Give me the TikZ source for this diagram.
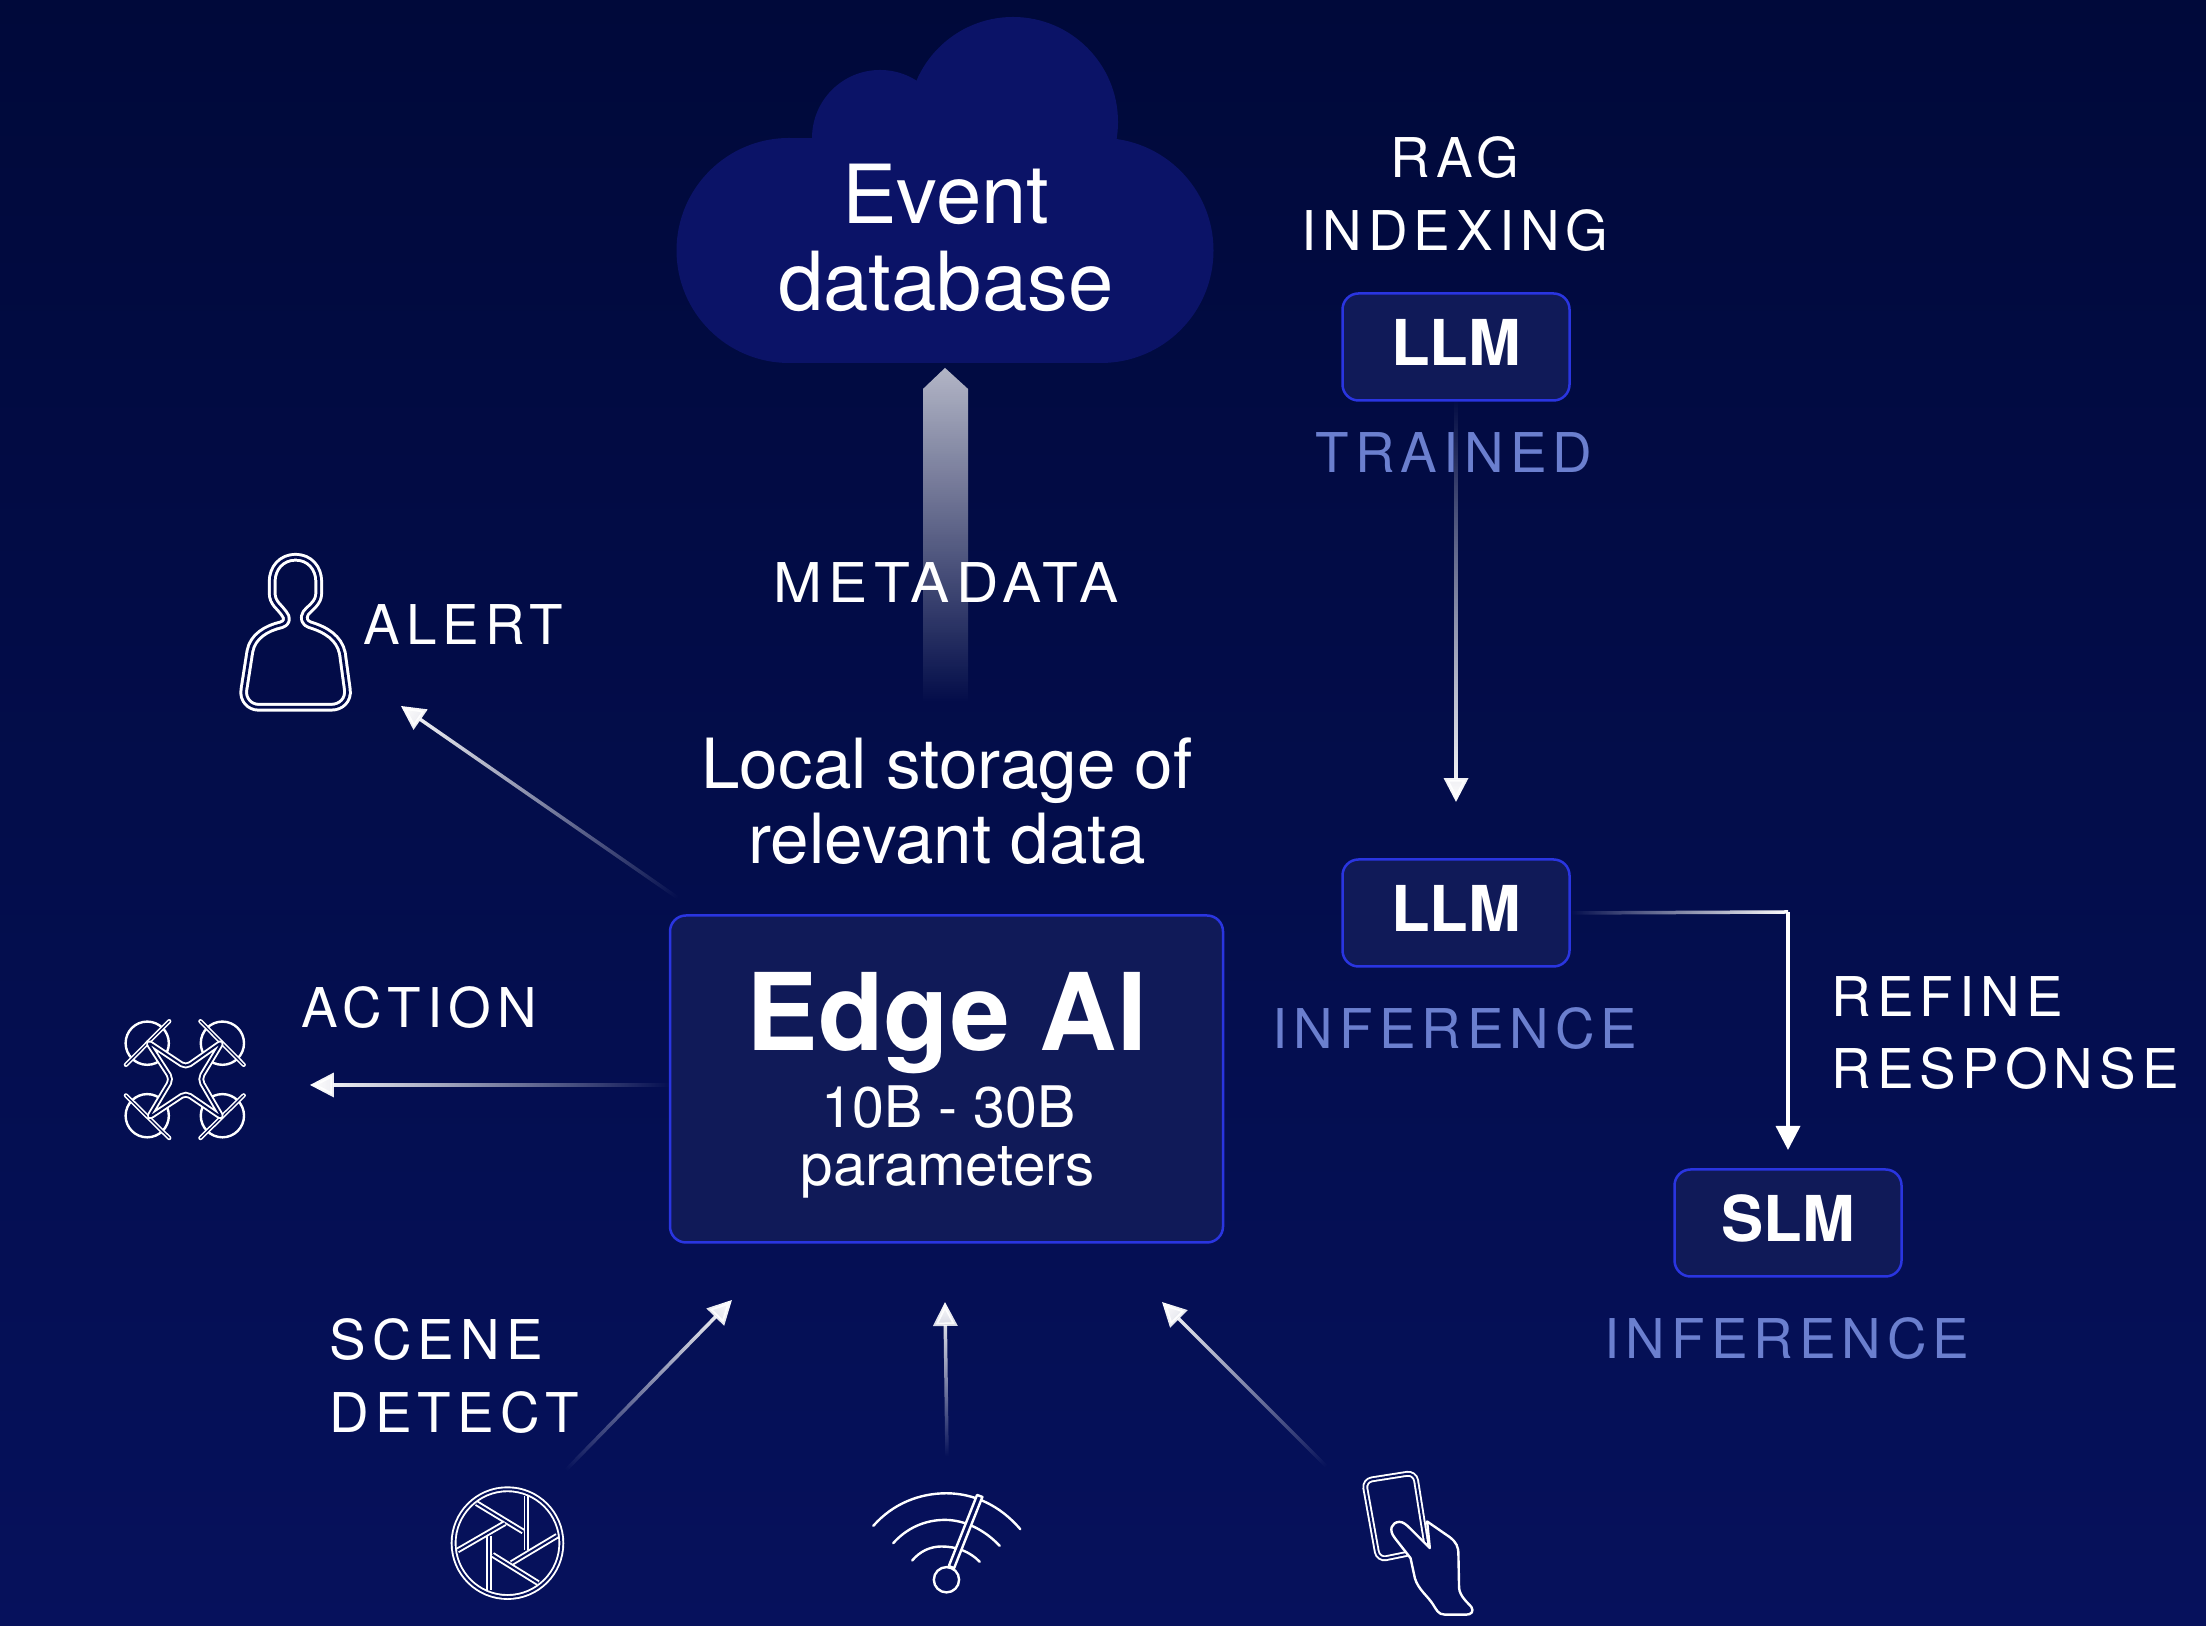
\documentclass[tikz,border=0pt]{standalone}
\usepackage{fontspec}
\setmainfont{TeX Gyre Heros}
\newfontfamily\capsfont[LetterSpace=11]{TeX Gyre Heros}
\usetikzlibrary{arrows.meta, fadings}

\definecolor{bgtop}{HTML}{00093A}
\definecolor{bgbottom}{HTML}{06115C}
\definecolor{bgmid}{HTML}{020C4C}
\definecolor{cloudfill}{HTML}{0B1367}
\definecolor{boxfill}{HTML}{101A58}
\definecolor{boxline}{HTML}{2A35E0}
\definecolor{softblue}{HTML}{6B7FCF}

\tikzfading[name=linefade, left color=transparent!100, right color=transparent!0]
\tikzfading[name=metafade, top color=transparent!30, middle color=transparent!85, bottom color=transparent!100]

\tikzset{
  modelbox/.style={draw=boxline, fill=boxfill, line width=0.025cm, rounded corners=0.16cm, minimum width=2.27cm, minimum height=1.07cm, inner sep=0pt, text=white, text depth=0.1cm, font=\fontsize{18}{20}\selectfont\bfseries},
  caplabel/.style={text=white, inner sep=0pt, font=\fontsize{15.6}{20.6}\capsfont},
  softlabel/.style={caplabel, text=softblue},
  bodylabel/.style={text=white, inner sep=0pt, align=center},
  arrowline/.style={white, line width=0.035cm, -{Triangle[length=0.24cm,width=0.24cm]}},
  fadeline/.style n args={3}{path fading=linefade, fit fading=false, fading transform={shift={#1}, rotate=#2, xscale=#3}},
  iconline/.style={white, line width=0.024cm, line join=round},
  iconband/.style={white, line width=0.019cm, double distance=0.02cm, line join=round}
}

\begin{document}
\begin{tikzpicture}
\useasboundingbox (0,0) rectangle (22.06,16.26);
\shade[top color=bgtop, bottom color=bgbottom] (0,0) rectangle (22.06,16.26);

%Cloud
\fill[cloudfill] (7.89,13.755) circle (1.125);
\fill[cloudfill] (11.01,13.755) circle (1.125);
\fill[cloudfill] (10.13,15.04) circle (1.05);
\fill[cloudfill] (8.80,14.88) circle (0.68);
\fill[cloudfill] (7.89,12.63) rectangle (11.01,14.88);
\node[bodylabel, font=\fontsize{23.2}{24.8}\selectfont] (eventdb) at (9.46,13.885) {Event\\database};

%Metadata arrow
\coordinate (metatip) at (9.45,12.58);
\fill[white, path fading=metafade] (metatip) -- (9.68,12.37) -- (9.68,9.23) -- (9.23,9.23) -- (9.23,12.37) -- cycle;
\node[caplabel, xscale=1.07] (metadata) at (9.46,10.43) {METADATA};

%Edge device
\node[modelbox, minimum width=5.53cm, minimum height=3.27cm] (edgeai) at (9.465,5.47) {};
\node[text=white, inner sep=0pt, anchor=base, font=\fontsize{30.5}{32}\selectfont\bfseries] (edgetitle) at (9.47,5.75) {Edge AI};
\node[text=white, inner sep=0pt, anchor=base, font=\fontsize{16.3}{17}\selectfont] (edgesize) at (9.485,4.98) {10B - 30B};
\node[text=white, inner sep=0pt, anchor=base, font=\fontsize{16.6}{17}\selectfont] (edgeparams) at (9.475,4.40) {parameters};
\node[bodylabel, font=\fontsize{19.7}{21.3}\selectfont] (localstore) at (9.47,8.25) {Local storage of\\relevant data};

%Right column
\node[caplabel, align=center] (ragindex) at (14.55,14.32) {RAG\\INDEXING};
\node[modelbox] (llmtop) at (14.56,12.79) {LLM};
\node[softlabel] (trained) at (14.54,11.73) {TRAINED};
\node[modelbox] (llmmid) at (14.56,7.13) {LLM};
\node[softlabel] (infermid) at (14.55,5.97) {INFERENCE};
\node[modelbox] (slm) at (17.88,4.03) {SLM};
\node[softlabel] (inferslm) at (17.87,2.87) {INFERENCE};
\node[caplabel, align=left, anchor=west] (refine) at (18.31,5.93) {REFINE\\RESPONSE};

%Left labels
\node[caplabel, anchor=west] (alert) at (3.63,10.01) {ALERT};
\node[caplabel, anchor=west] (action) at (3.01,6.18) {ACTION};
\node[caplabel, align=left, anchor=west] (scene) at (3.29,2.50) {SCENE\\DETECT};

%Free ends of the connectors
\coordinate (alertstart) at (6.78,7.28);
\coordinate (alerttip) at (4.01,9.20);
\coordinate (actiontip) at (3.10,5.41);
\coordinate (scenestart) at (5.66,1.56);
\coordinate (scenetip) at (7.32,3.26);
\coordinate (wifistart) at (9.47,1.70);
\coordinate (wifitip) at (9.45,3.24);
\coordinate (phonestart) at (13.27,1.59);
\coordinate (phonetip) at (11.62,3.24);
\coordinate (trainedtip) at (14.56,8.24);
\coordinate (refinecorner) at (17.88,7.14);
\coordinate (refinetip) at (17.88,4.76);

%Connectors
\draw[arrowline, fadeline={(5.395,8.24)}{145.3}{1.92}] (alertstart) -- (alerttip);
\draw[arrowline, fadeline={(4.90,5.41)}{180}{2.05}] (edgeai.west |- actiontip) -- (actiontip);
\draw[arrowline, fadeline={(6.49,2.41)}{45.7}{1.36}] (scenestart) -- (scenetip);
\draw[arrowline, fadeline={(9.46,2.47)}{90.7}{0.88}] (wifistart) -- (wifitip);
\draw[arrowline, fadeline={(12.445,2.415)}{135}{1.32}] (phonestart) -- (phonetip);
\draw[arrowline, fadeline={(14.56,10.255)}{-90}{2.30}] (llmtop.south) -- (trainedtip);
\draw[white, line width=0.035cm, fadeline={(16.79,7.14)}{0}{1.24}] (llmmid.east) -- (refinecorner);
\draw[arrowline] (refinecorner) -- (refinetip);

%Person icon
\begin{scope}[shift={(2.00,11.06)}, x=0.00333cm, y=-0.00333cm]
\draw[white, line width=0.03cm, double=bgmid, double distance=0.027cm, line join=round]
  (287,112) .. controls (330,112) and (357,145) .. (357,185) -- (357,220)
  .. controls (357,250) and (332,262) .. (318,280) .. controls (308,295) and (315,310) .. (330,315)
  .. controls (380,330) and (418,355) .. (428,400) -- (443,510)
  .. controls (447,540) and (425,563) .. (395,563) -- (175,563)
  .. controls (150,563) and (127,540) .. (132,510) -- (150,395)
  .. controls (158,350) and (200,325) .. (245,315) .. controls (262,310) and (265,295) .. (252,280)
  .. controls (240,262) and (217,250) .. (217,220) -- (217,185)
  .. controls (217,145) and (245,112) .. (287,112) -- cycle;
\end{scope}

%Drone icon
\begin{scope}[shift={(1.00,6.36)}, x=0.00333cm, y=-0.00333cm]
\foreach \cx/\cy in {142/160, 368/160, 142/378, 368/378}
  \draw[iconline] (\cx,\cy) circle (65);
\foreach \ax/\ay/\bx/\by in {78/225/208/94, 302/94/432/225, 78/317/208/445, 432/317/302/445}
  \draw[white, line width=0.016cm, double=bgmid, double distance=0.012cm, line cap=round] (\ax,\ay) -- (\bx,\by);
\draw[white, line width=0.019cm, double=bgmid, double distance=0.02cm, fill=bgmid, rounded corners=0.05cm]
  (142,155) -- (258,232) -- (368,155) -- (300,268) -- (368,385) -- (258,310) -- (145,385) -- (215,268) -- cycle;
\end{scope}

%Camera icon
\begin{scope}[shift={(4.20,1.66)}, x=0.00333cm, y=-0.00333cm]
\draw[iconband, double=bgbottom] (263,250) circle (162);
\foreach \ax/\ay/\bx/\by in {170/130/310/215, 320/108/320/270, 412/228/275/310, 355/370/218/285, 207/392/207/230, 113/272/255/190}
  \draw[iconband, double=bgbottom] (\ax,\ay) -- (\bx,\by);
\end{scope}

%Wifi icon
\begin{scope}[shift={(8.50,1.56)}, x=0.00333cm, y=-0.00333cm]
\draw[iconline, line cap=round] (70,168) .. controls (130,100) and (210,70) .. (290,70) .. controls (370,70) and (450,105) .. (512,178);
\draw[iconline, line cap=round] (130,220) .. controls (170,175) and (225,150) .. (285,150) .. controls (345,150) and (405,180) .. (450,228);
\draw[iconline, line cap=round] (187,272) .. controls (210,245) and (240,230) .. (275,230) .. controls (320,230) and (360,245) .. (390,276);
\draw[bgbottom, line width=0.12cm] (320,230) -- (345,170);
\draw[iconline, fill=bgbottom] (297,289) -- (382,75) -- (398,81) -- (313,295) -- cycle;
\draw[iconline, fill=bgbottom] (290,330) circle (38);
\end{scope}

%Phone icon
\begin{scope}[shift={(13.40,1.76)}, x=0.00333cm, y=-0.00333cm]
\draw[white, line width=0.019cm, double=bgbottom, double distance=0.02cm, rounded corners=0.08cm]
  (72,92) -- (225,68) -- (262,300) -- (115,330) -- cycle;
\draw[iconline, fill=bgbottom] (262,215) -- (330,262) .. controls (350,278) and (356,290) .. (356,315)
  -- (358,415) .. controls (360,440) and (385,460) .. (395,472) .. controls (403,485) and (395,495) .. (380,495)
  -- (315,495) .. controls (295,495) and (290,480) .. (280,465) .. controls (265,440) and (235,420) .. (225,385)
  -- (212,325) -- (165,265) .. controls (145,240) and (155,218) .. (178,216) .. controls (190,216) and (200,225) .. (210,235)
  -- (270,295) -- cycle;
\end{scope}

\end{tikzpicture}
\end{document}
